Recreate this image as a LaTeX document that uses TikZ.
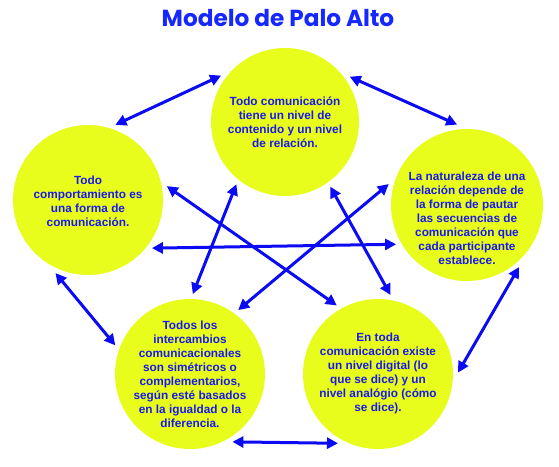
\documentclass[tikz,border=0pt]{standalone}
\usepackage{fontspec}
\setmainfont{Liberation Sans}
\newfontfamily\titlefont{Poppins}
\usetikzlibrary{arrows.meta}
\definecolor{circfill}{RGB}{232,253,28}
\definecolor{txtblue}{RGB}{25,25,235}
\definecolor{arrblue}{RGB}{10,10,245}
\definecolor{titleblue}{RGB}{20,40,255}
\begin{document}
\begin{tikzpicture}[x=1pt,y=-1pt,
  circ/.style={circle,fill=circfill,inner sep=0pt,outer sep=5pt,minimum size=#1},
  txt/.style={text=txtblue,align=center,font=\bfseries\fontsize{11.8}{14}\selectfont,inner sep=0pt},
  arr/.style={arrblue,line width=3pt,{Triangle[length=11pt,width=11pt]}-{Triangle[length=11pt,width=11pt]}}]
\useasboundingbox (0,0) rectangle (559,466);
\node[text=titleblue,font=\titlefont\bfseries\fontsize{23.2}{27}\selectfont] (title) at (278,18) {Modelo de Palo Alto};
\node[circ=148pt] (T) at (285,122) {};
\node[circ=150pt] (L) at (88,200) {};
\node[circ=152pt] (R) at (467,205) {};
\node[circ=150pt] (BL) at (190,374) {};
\node[circ=150pt] (BR) at (378,374) {};
\node[txt] (Tt) at (285,122) {Todo comunicación\\tiene un nivel de\\contenido y un nivel\\de relación.};
\node[txt] (Lt) at (88,201) {Todo\\comportamiento es\\una forma de\\comunicación.};
\node[txt] (Rt) at (467,218) {La naturaleza de una\\relación depende de\\la forma de pautar\\las secuencias de\\comunicación que\\cada participante\\establece.};
\node[txt] (BLt) at (190,374) {Todos los\\intercambios\\comunicacionales\\son simétricos o\\complementarios,\\según esté basados\\en la igualdad o la\\diferencia.};
\node[txt] (BRt) at (378,373) {En toda\\comunicación existe\\un nivel digital (lo\\que se dice) y un\\nivel analógio (cómo\\se dice).};
\draw[arr] (L.70) -- (T.144);
\draw[arr] (T.35) -- (R.97);
\draw[arr] (L.-114) -- (BL.159);
\draw[arr] (BL.-58) -- (BR.-120);
\draw[arr] (R.-50) -- (BR.1);
\draw[arr] (L.-37) -- (R.-151);
\draw[arr] (L.10) -- (BR.121);
\draw[arr] (R.165) -- (BL.53);
\draw[arr] (T.-128) -- (BL.88);
\draw[arr] (T.-55) -- (BR.81);
\end{tikzpicture}
\end{document}
